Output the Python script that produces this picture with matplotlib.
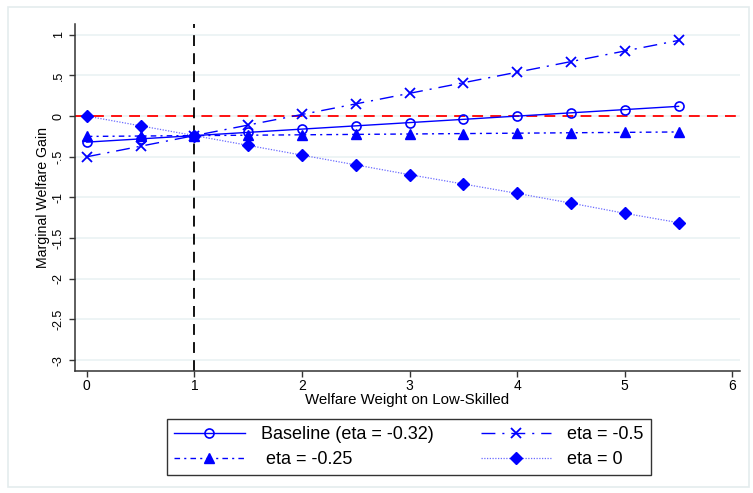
import matplotlib
matplotlib.use("Agg")
import matplotlib.pyplot as plt
from matplotlib.patches import Rectangle

plt.rcParams["font.family"] = ["Liberation Sans", "DejaVu Sans"]

weights = [0, 0.5, 1, 1.5, 2, 2.5, 3, 3.5, 4, 4.5, 5, 5.5]
baseline = [-0.32, -0.28, -0.24, -0.20, -0.16, -0.12, -0.08, -0.04, 0.00, 0.04, 0.08, 0.12]
eta_m05 = [-0.50, -0.37, -0.24, -0.11, 0.02, 0.15, 0.28, 0.41, 0.54, 0.67, 0.80, 0.93]
eta_m025 = [-0.25, -0.245, -0.24, -0.235, -0.23, -0.225, -0.22, -0.215, -0.21, -0.205, -0.20, -0.195]
eta_0 = [0.00, -0.12, -0.24, -0.36, -0.48, -0.60, -0.72, -0.835, -0.95, -1.07, -1.195, -1.31]

yticks = [1, 0.5, 0, -0.5, -1, -1.5, -2, -2.5, -3]
ytick_labels = ["1", ".5", "0", "-.5", "-1", "-1.5", "-2", "-2.5", "-3"]
xticks = [0, 1, 2, 3, 4, 5, 6]

BLUE = "#0000ff"
GRID = "#eaf2f3"

fig = plt.figure(figsize=(7.53, 4.93), dpi=100)
fig.patch.set_facecolor("white")
fig.add_artist(Rectangle((0.010, 0.012), 0.985, 0.974, transform=fig.transFigure,
                         fill=False, edgecolor="#e4eced", linewidth=1.2))

ax = fig.add_axes([0.0996, 0.248, 0.883, 0.703])
ax.set_xlim(-0.11, 6.07)
ax.set_ylim(-3.13, 1.13)

for yv in yticks:
    ax.axhline(yv, color=GRID, linewidth=1.2, zorder=0)

ax.axhline(0, color="red", linestyle=(0, (6, 4)), linewidth=1.3, zorder=1)
ax.axvline(1, color="black", linestyle=(0, (6, 4)), linewidth=1.3, zorder=1)

l1, = ax.plot(weights, baseline, color=BLUE, linestyle="-", linewidth=1.0,
              marker="o", markersize=6.5, markerfacecolor="none", markeredgewidth=1.2,
              label="Baseline (eta = -0.32)")
l2, = ax.plot(weights, eta_m05, color=BLUE, linestyle=(0, (10, 5, 1.5, 5)), linewidth=1.0,
              marker="x", markersize=7.5, markeredgewidth=1.3,
              label="eta = -0.5")
l3, = ax.plot(weights, eta_m025, color=BLUE, linestyle=(0, (4, 3, 1.5, 3)), linewidth=1.0,
              marker="^", markersize=7.5,
              label=" eta = -0.25")
l4, = ax.plot(weights, eta_0, color="#6b6bff", linestyle=(0, (1, 1.2)), linewidth=0.9,
              marker="D", markersize=6.5, markerfacecolor=BLUE, markeredgecolor=BLUE,
              label="eta = 0")

ax.set_yticks(yticks)
ax.set_yticklabels(ytick_labels, rotation=90, va="center")
ax.set_xticks(xticks)
ax.tick_params(axis="y", labelsize=9, length=4, width=1, color="#333333")
ax.tick_params(axis="x", labelsize=10, length=4, width=1, color="#333333", pad=2)
ax.set_xlabel("Welfare Weight on Low-Skilled", fontsize=10.8, labelpad=0)
ax.set_ylabel("Marginal Welfare Gain", fontsize=10.2, labelpad=2)

for side in ["top", "right"]:
    ax.spines[side].set_visible(False)
for side in ["left", "bottom"]:
    ax.spines[side].set_color("#333333")
    ax.spines[side].set_linewidth(1.1)

leg = fig.legend([l1, l3, l2, l4],
                 ["Baseline (eta = -0.32)", " eta = -0.25", "eta = -0.5", "eta = 0"],
                 ncol=2, loc="center", bbox_to_anchor=(0.543, 0.093),
                 fontsize=13, frameon=True, fancybox=False, handlelength=3.9,
                 columnspacing=2.6, handletextpad=0.9, labelspacing=0.45,
                 borderpad=0.4, borderaxespad=0)
leg.get_frame().set_edgecolor("black")
leg.get_frame().set_linewidth(1.0)

fig.savefig("out.png", dpi=100)
